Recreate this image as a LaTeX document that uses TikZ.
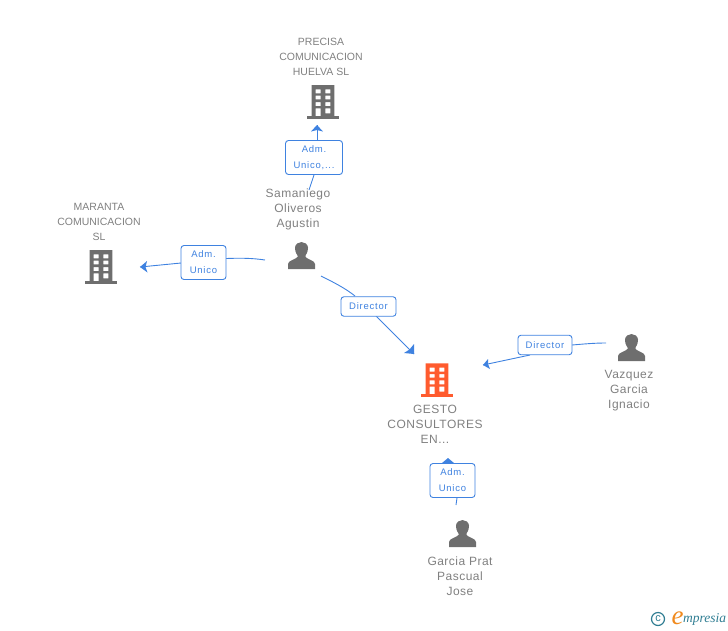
\documentclass[tikz,border=0pt]{standalone}
\usepackage{fontspec}
\setmainfont{Liberation Sans}
\newfontfamily\logofont{Liberation Serif}
\definecolor{txt}{HTML}{808080}
\definecolor{icongray}{HTML}{6E6E6E}
\definecolor{hot}{HTML}{FF5B2E}
\definecolor{linkblue}{HTML}{3F82E0}
\definecolor{tealc}{HTML}{2F7D92}
\definecolor{logoor}{HTML}{F08A1E}
\tikzset{
 x=1pt,y=-1pt,
 entlabel/.style={text=txt,font=\fontsize{12}{15}\selectfont\addfontfeatures{LetterSpace=4},align=center,inner sep=0pt,anchor=north},
 smalllabel/.style={entlabel,font=\fontsize{10.5}{15}\selectfont},
 rellabel/.style={draw=linkblue,fill=white,rounded corners=3pt,line width=0.9pt,text=linkblue,font=\fontsize{9.5}{16}\selectfont\addfontfeatures{LetterSpace=8},align=center,inner sep=0pt},
 conn/.style={draw=linkblue,line width=0.9pt},
 conntip/.style={fill=linkblue},
 pics/tower/.style={code={
  \fill[#1] (-16,14.5) rectangle (16,17.2);
  \fill[#1,even odd rule] (-11.3,-16.5) rectangle (11.3,14.6)
   (-7.3,-12.2) rectangle (-2.3,-8.2) (2.3,-12.2) rectangle (7.3,-8.2)
   (-7.3,-5.8) rectangle (-2.3,-2.2) (2.3,-5.8) rectangle (7.3,-2.2)
   (-7.3,0.5) rectangle (-2.3,4.5) (2.3,0.5) rectangle (7.3,4.5)
   (-7.3,6.8) rectangle (-2.3,14.6) (2.3,6.8) rectangle (7.3,11.8);
 }},
 pics/person/.style={code={
  \fill[icongray] (-13.5,13.5) -- (-13.5,8.5) .. controls (-13.5,5) and (-6,4) .. (-4,1.5)
   -- (-4,0) .. controls (-6,-3) and (-6.8,-6) .. (-6.5,-8)
   .. controls (-6.2,-11.5) and (-3,-13.5) .. (0,-13.5)
   .. controls (3,-13.5) and (6.2,-11.5) .. (6.5,-8)
   .. controls (6.8,-6) and (6,-3) .. (4,0)
   -- (4,1.5) .. controls (6,4) and (13.5,5) .. (13.5,8.5) -- (13.5,13.5) -- cycle;
 }}
}
\begin{document}
\begin{tikzpicture}
\useasboundingbox (0,0) rectangle (728,630);
% icons
\pic at (323,101.5) {tower=icongray};
\pic at (101,266.5) {tower=icongray};
\pic at (437,379.8) {tower=hot};
\pic at (301.5,255.5) {person};
\pic at (631.5,347.5) {person};
\pic at (462.5,533.5) {person};
% names
\node[smalllabel] (precisa) at (321,38) {PRECISA\\COMUNICACION\\HUELVA SL};
\node[smalllabel] (maranta) at (99,203) {MARANTA\\COMUNICACION\\SL};
\node[entlabel] (samaniego) at (298,188.5) {Samaniego\\Oliveros\\Agustin};
\node[entlabel] (gesto) at (435,404.5) {GESTO\\CONSULTORES\\EN...};
\node[entlabel] (vazquez) at (629,370.5) {Vazquez\\Garcia\\Ignacio};
\node[entlabel] (garcia) at (460,556.5) {Garcia Prat\\Pascual\\Jose};
% anchors of connectors
\coordinate (a1s) at (309,190); \coordinate (a1t) at (317,125);
\coordinate (a2s) at (265,260); \coordinate (a2t) at (140,267);
\coordinate (d1s) at (321,276); \coordinate (d1t) at (414,354);
\coordinate (d2s) at (606,343); \coordinate (d2t) at (483,365);
\coordinate (a3s) at (456,505); \coordinate (a3t) at (448,458);
% connectors
\draw[conn] (a1s) -- (314,175);
\draw[conn] (317,140) -- (a1t);
\fill[conntip] (a1t) -- (323,131.5) -- (317,130) -- (311,131.5) -- cycle;
\draw[conn] (a2s) .. controls (252,258) and (240,258) .. (226,258.5);
\draw[conn] (181,263) -- (a2t);
\fill[conntip] (a2t) -- (147,261) -- (145.5,267) -- (147.5,272.5) -- cycle;
\draw[conn] (d1s) .. controls (333,282) and (345,288) .. (355,296);
\draw[conn] (376,316) -- (d1t);
\fill[conntip] (d1t) -- (414,344) -- (409.5,349.5) -- (404,353) -- cycle;
\draw[conn] (d2s) .. controls (594,343) and (584,344) .. (572,345);
\draw[conn] (530,355) -- (d2t);
\fill[conntip] (d2t) -- (488,359) -- (488,364) -- (490,369) -- cycle;
\draw[conn] (a3s) -- (457,498);
\fill[conntip] (a3t) -- (442,463) -- (454,463) -- cycle;
% relation labels
\node[rellabel,minimum width=57pt,minimum height=34pt] (r1) at (314,157.5) {Adm.\\Unico,...};
\node[rellabel,minimum width=45pt,minimum height=34pt] (r2) at (203.5,262.5) {Adm.\\Unico};
\node[rellabel,minimum width=55pt,minimum height=19.5pt] (r3) at (368.5,306.5) {Director};
\node[rellabel,minimum width=54pt,minimum height=19.5pt] (r4) at (545,345) {Director};
\node[rellabel,minimum width=45pt,minimum height=34pt] (r5) at (452.5,480.5) {Adm.\\Unico};
% logo
\draw[tealc,line width=1.2pt] (658,619) circle (6.5pt);
\node[text=tealc,font=\fontsize{11}{11}\selectfont,inner sep=0pt] (copy) at (658,618.5) {c};
\node[text=logoor,font=\logofont\itshape\fontsize{27}{27}\selectfont,inner sep=0pt] (loge) at (677.5,618) {e};
\node[text=tealc,font=\logofont\itshape\fontsize{13.5}{13.5}\selectfont,inner sep=0pt,anchor=west] (logt) at (683,619) {mpresia};
\end{tikzpicture}
\end{document}
